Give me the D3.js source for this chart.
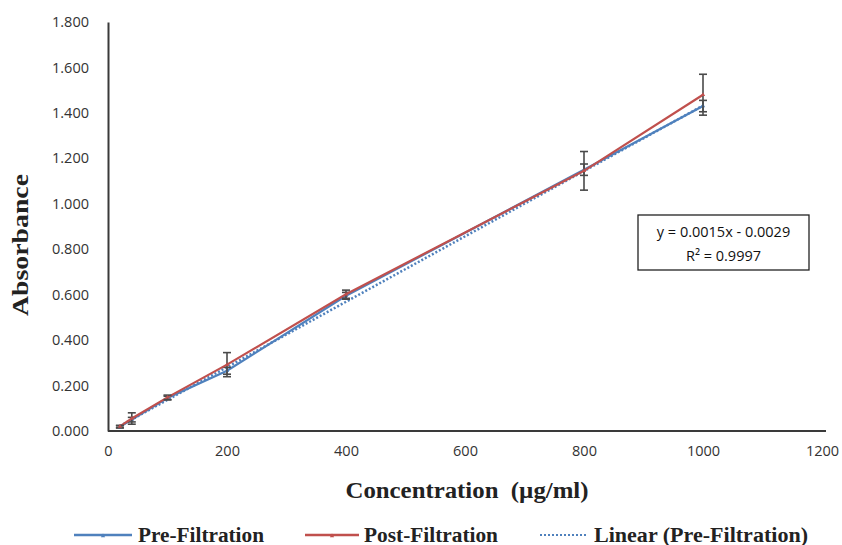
<!DOCTYPE html>
<html><head><meta charset="utf-8">
<script src="https://cdn.jsdelivr.net/npm/d3@7"></script>
<style>body{margin:0;background:#fff;}</style>
</head><body>
<svg id="c" width="842" height="545"></svg>
<script>
const conc = [20, 40, 100, 200, 400, 800, 1000];
const preVals = [0.018, 0.050, 0.145, 0.265, 0.595, 1.150, 1.430];
const preErr = [0.005, 0.010, 0.008, 0.015, 0.015, 0.025, 0.025];
const postVals = [0.020, 0.055, 0.148, 0.292, 0.602, 1.145, 1.480];
const postErr = [0.005, 0.025, 0.010, 0.053, 0.018, 0.085, 0.090];
const trendX = [20, 1000];
const trendY = [0.022, 1.432];
const xTicks = [0, 200, 400, 600, 800, 1000, 1200];
const yTicks = [0, 0.2, 0.4, 0.6, 0.8, 1.0, 1.2, 1.4, 1.6, 1.8];
const eqLines = ["y = 0.0015x - 0.0029", "R² = 0.9997"];
const legendItems = ["Pre-Filtration", "Post-Filtration", "Linear (Pre-Filtration)"];

const svg = d3.select("#c");
const x = d3.scaleLinear().domain([0, 1200]).range([108, 822]);
const y = d3.scaleLinear().domain([0, 1.8]).range([431, 22]);
const blue = "#4F81BD", red = "#C0504D", errC = "#4a4a4a";

// axes
const xa = svg.append("g").attr("transform", "translate(0,431)")
  .call(d3.axisBottom(x).tickValues(xTicks).tickSize(0).tickPadding(15).tickFormat(d3.format("d")));
const ya = svg.append("g").attr("transform", "translate(108,0)")
  .call(d3.axisLeft(y).tickValues(yTicks).tickSize(0).tickPadding(19).tickFormat(d3.format(".3f")));
[xa, ya].forEach(a => {
  a.select(".domain").attr("stroke", "#3a3a3a").attr("stroke-width", 2);
  a.selectAll("text").attr("font-family", "'Open Sans', sans-serif").attr("font-size", 14.5).attr("fill", "#333");
});
xa.select(".domain").attr("d", "M108,0H826");

const pts = (xs, vals) => xs.map((c, i) => [c, vals[i]]);
const line = d3.line().x(d => x(d[0])).y(d => y(d[1]));

// trendline
svg.append("path").datum(pts(trendX, trendY))
  .attr("d", line).attr("fill", "none").attr("stroke", blue).attr("stroke-width", 2.5)
  .attr("stroke-dasharray", "2,2");

function series(vals, errs, color) {
  svg.append("path").datum(pts(conc, vals)).attr("d", line).attr("fill", "none")
    .attr("stroke", color).attr("stroke-width", 2.2);
  const g = svg.append("g").attr("stroke", errC).attr("stroke-width", 1.6);
  conc.forEach((c, i) => {
    const cx = x(c), y1 = y(vals[i] - errs[i]), y2 = y(vals[i] + errs[i]);
    g.append("line").attr("x1", cx).attr("x2", cx).attr("y1", y1).attr("y2", y2);
    g.append("line").attr("x1", cx-4).attr("x2", cx+4).attr("y1", y1).attr("y2", y1);
    g.append("line").attr("x1", cx-4).attr("x2", cx+4).attr("y1", y2).attr("y2", y2);
  });
  svg.append("g").selectAll("path").data(pts(conc, vals)).join("path")
    .attr("transform", d => `translate(${x(d[0])},${y(d[1])})`)
    .attr("d", d3.symbol(d3.symbolTriangle, 8)).attr("fill", color);
}
series(preVals, preErr, blue);
series(postVals, postErr, red);

// equation box
svg.append("rect").attr("x", 638).attr("y", 215).attr("width", 171).attr("height", 55)
  .attr("fill", "#fff").attr("stroke", "#222").attr("stroke-width", 1.3);
eqLines.forEach((t, i) => svg.append("text").attr("x", 723.5).attr("y", 237 + i*24)
  .attr("text-anchor", "middle").attr("font-family", "'Open Sans', sans-serif")
  .attr("font-size", 14.5).attr("fill", "#111").text(t));

// axis titles
svg.append("text").attr("transform", "translate(28,245) rotate(-90)").attr("text-anchor", "middle")
  .attr("font-family", "'Liberation Serif', serif").attr("font-weight", "bold").attr("font-size", 23)
  .attr("fill", "#222").attr("textLength", 142).attr("lengthAdjust", "spacingAndGlyphs").text("Absorbance");
svg.append("text").attr("x", 467).attr("y", 498).attr("text-anchor", "middle")
  .attr("font-family", "'Liberation Serif', serif").attr("font-weight", "bold").attr("font-size", 23)
  .attr("fill", "#222").attr("xml:space", "preserve")
  .attr("textLength", 243).attr("lengthAdjust", "spacingAndGlyphs").text("Concentration  (µg/ml)");

// legend
const lg = [{x0: 74, x1: 132, tx: 138, w: 126, c: blue, dash: null},
            {x0: 305, x1: 359, tx: 364, w: 134, c: red, dash: null},
            {x0: 540, x1: 586, tx: 594, w: 214, c: blue, dash: "2,2"}];
lg.forEach((l, i) => {
  const ln = svg.append("line").attr("x1", l.x0).attr("x2", l.x1).attr("y1", 535).attr("y2", 535)
    .attr("stroke", l.c).attr("stroke-width", l.dash ? 2 : 2.5);
  if (l.dash) ln.attr("stroke-dasharray", l.dash);
  else svg.append("path").attr("transform", `translate(${(l.x0+l.x1)/2},536)`)
    .attr("d", d3.symbol(d3.symbolTriangle, 8)).attr("fill", l.c);
  svg.append("text").attr("x", l.tx).attr("y", 542).attr("font-family", "'Liberation Serif', serif")
    .attr("font-weight", "bold").attr("font-size", 20).attr("fill", "#222")
    .attr("textLength", l.w).attr("lengthAdjust", "spacingAndGlyphs").text(legendItems[i]);
});
</script>
</body></html>
